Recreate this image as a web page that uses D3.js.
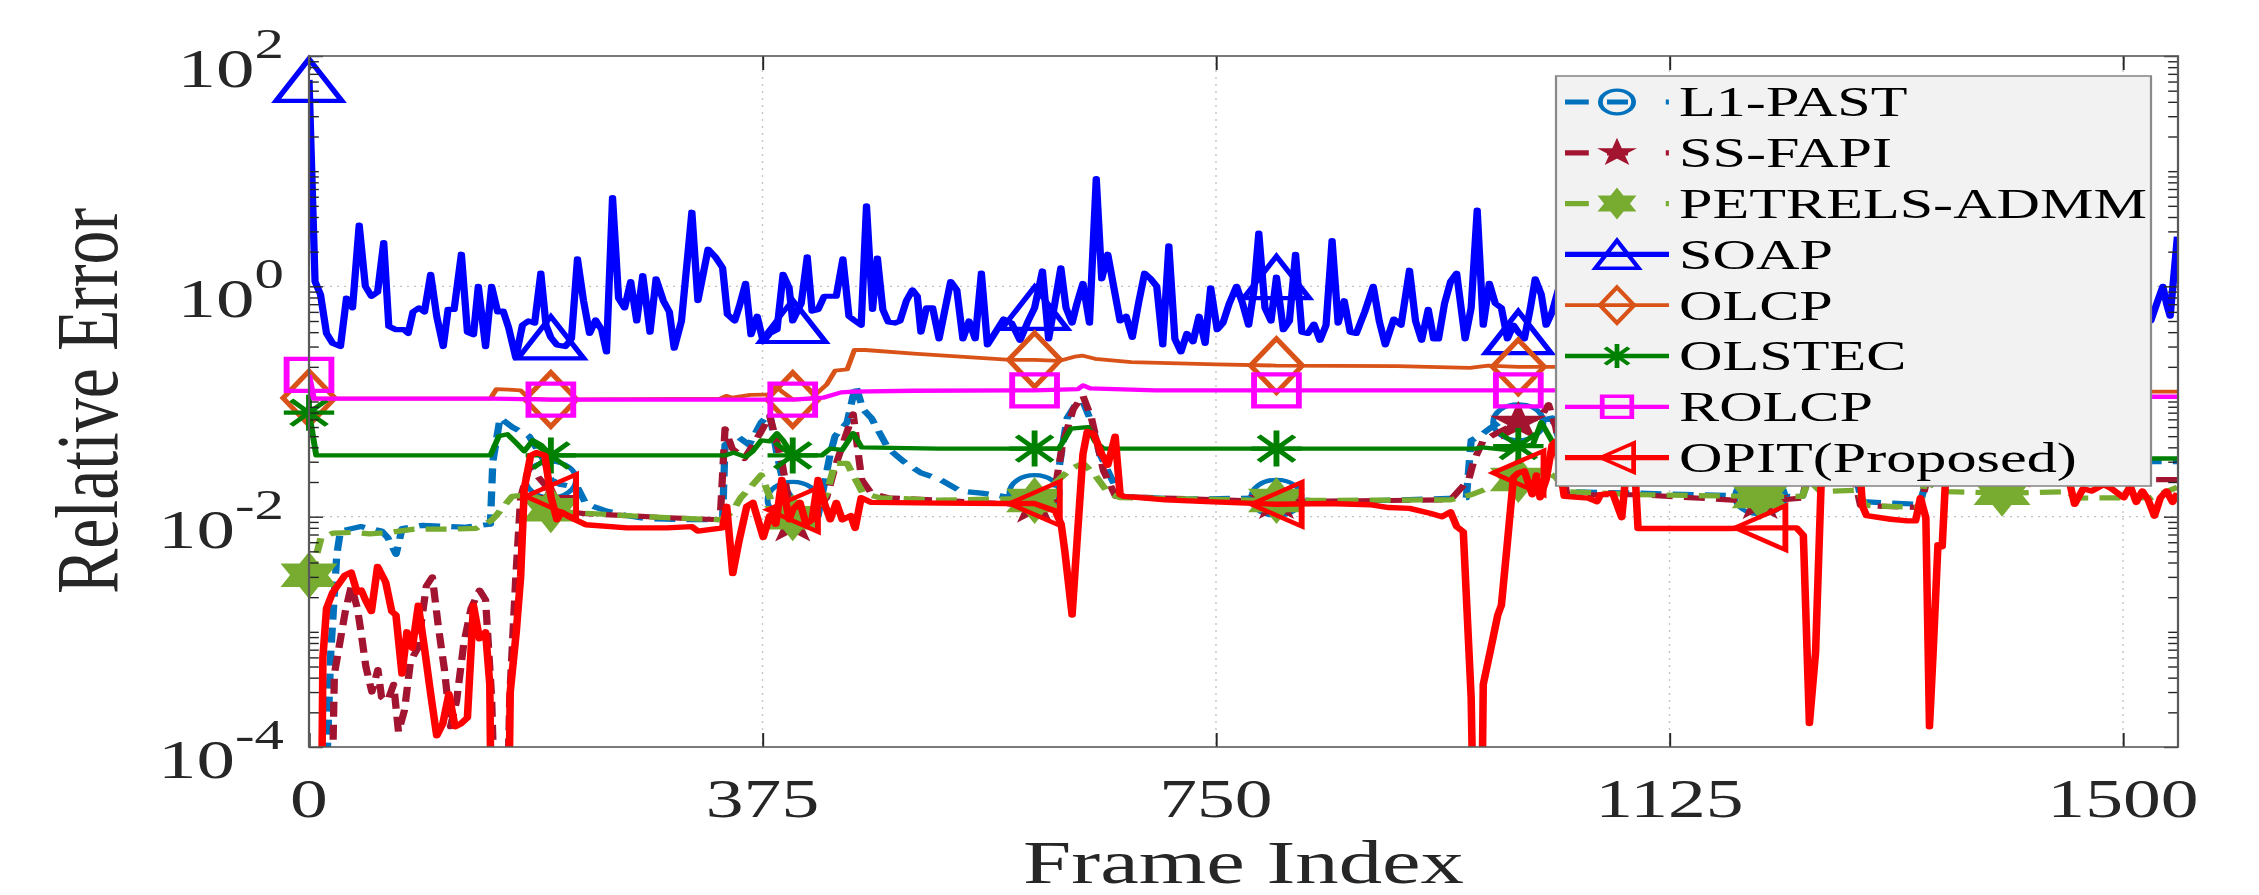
<!DOCTYPE html>
<html><head><meta charset="utf-8">
<script src="https://cdn.jsdelivr.net/npm/d3@7"></script>
<style>html,body{margin:0;padding:0;background:#fff;} svg{display:block}</style>
</head><body>
<svg id="chart" width="2259" height="895"></svg>
<script>
// ---------------- DATA ----------------
const xTicks = [0, 375, 750, 1125, 1500];
const yTickExponents = [-4, -2, 0, 2];
const seriesNames = ["L1-PAST", "SS-FAPI", "PETRELS-ADMM", "SOAP", "OLCP", "OLSTEC", "ROLCP", "OPIT(Proposed)"];
const markerFrames = [0, 200, 400, 600, 800, 1000, 1200, 1400];

// [frame, relative error]
const L1PAST = [[0,1e-5],[12,1e-5],[18,6.6e-4],[23,0.0047],[26,0.0075],[43,0.0082],[60,0.0075],[65,0.0066],[72,0.0047],[77,0.0079],[94,0.0084],[128,0.0081],[150,0.0086],[152,0.03],[158,0.072],[168,0.06],[182,0.05],[195,0.03],[200,0.021],[208,0.019],[222,0.018],[229,0.0129],[246,0.0112],[263,0.0102],[279,0.0096],[317,0.0094],[342,0.0094],[344,0.042],[354,0.05],[364,0.042],[374,0.066],[381,0.078],[387,0.035],[393,0.018],[400,0.014],[408,0.0102],[421,0.0102],[431,0.035],[435,0.05],[445,0.066],[452,0.139],[458,0.086],[465,0.072],[479,0.039],[492,0.03],[506,0.024],[522,0.021],[539,0.0166],[556,0.016],[583,0.0146],[600,0.016],[617,0.016],[622,0.035],[627,0.072],[634,0.094],[640,0.1],[647,0.066],[654,0.035],[664,0.021],[671,0.015],[725,0.0142],[800,0.0146],[843,0.0134],[957,0.0146],[961,0.046],[968,0.05],[978,0.06],[988,0.069],[1000,0.066],[1012,0.066],[1028,0.072],[1033,0.05],[1038,0.0165],[1100,0.016],[1200,0.015],[1235,0.015],[1242,0.026],[1278,0.026],[1284,0.0135],[1332,0.0128],[1340,0.026],[1400,0.026],[1523,0.03],[1545,0.03]];

const SSFAPI = [[0,1e-5],[18,1e-5],[21,4.3e-4],[30,0.0015],[35,0.0025],[40,0.0016],[43,0.001],[47,5e-4],[52,3e-4],[57,4.7e-4],[60,2.7e-4],[65,2.5e-4],[70,3.5e-4],[74,1.35e-4],[79,2.1e-4],[84,5.6e-4],[90,7.2e-4],[97,0.0025],[102,0.003],[107,0.0011],[112,4.7e-4],[117,1.5e-4],[122,2.5e-4],[128,7.9e-4],[134,0.0016],[141,0.0023],[146,0.0019],[151,2.7e-4],[155,1e-5],[163,1e-5],[166,2.7e-4],[171,0.003],[175,0.0146],[182,0.027],[188,0.023],[195,0.019],[200,0.0135],[215,0.011],[229,0.0106],[263,0.0102],[296,0.0098],[340,0.0094],[344,0.058],[350,0.039],[360,0.032],[374,0.055],[381,0.075],[391,0.03],[400,0.0086],[408,0.0086],[428,0.0146],[435,0.027],[445,0.055],[450,0.078],[457,0.021],[465,0.016],[479,0.0146],[522,0.0139],[600,0.0125],[607,0.0139],[617,0.0175],[623,0.042],[632,0.086],[640,0.112],[647,0.072],[657,0.025],[667,0.015],[800,0.0135],[944,0.014],[959,0.021],[963,0.03],[971,0.046],[985,0.055],[1000,0.066],[1018,0.072],[1025,0.094],[1031,0.06],[1036,0.03],[1040,0.0155],[1100,0.0155],[1200,0.0135],[1235,0.0145],[1242,0.03],[1275,0.03],[1283,0.0125],[1332,0.012],[1340,0.025],[1400,0.025],[1455,0.025],[1523,0.021],[1545,0.021]];

const PETRELS = [[0,0.0031],[4,0.0038],[10,0.0066],[20,0.0072],[37,0.0073],[50,0.0071],[67,0.0073],[87,0.0078],[104,0.0078],[121,0.0078],[138,0.0079],[151,0.0093],[155,0.0103],[168,0.015],[182,0.0155],[195,0.014],[200,0.0115],[212,0.011],[229,0.0107],[263,0.0102],[296,0.0098],[340,0.0094],[350,0.011],[357,0.0146],[364,0.0175],[374,0.023],[387,0.0102],[400,0.0098],[418,0.0102],[428,0.0158],[435,0.029],[445,0.029],[452,0.021],[458,0.016],[472,0.0146],[522,0.0139],[595,0.0144],[600,0.0138],[620,0.021],[630,0.026],[640,0.029],[650,0.023],[661,0.016],[671,0.0146],[800,0.0138],[944,0.014],[961,0.0155],[974,0.0175],[988,0.018],[1000,0.021],[1022,0.025],[1031,0.022],[1040,0.0165],[1100,0.0155],[1200,0.015],[1235,0.015],[1240,0.021],[1250,0.0165],[1281,0.017],[1287,0.0125],[1332,0.012],[1336,0.02],[1355,0.0165],[1400,0.016],[1455,0.0165],[1460,0.0145],[1523,0.0146],[1545,0.018]];

const SOAP = [[0,62],[5,1.1],[9.5,0.85],[14.5,0.39],[19.6,0.32],[26,0.30],[31,0.79],[36,0.65],[41.5,3.4],[46.6,1.0],[51.6,0.82],[56.7,0.89],[61.8,2.4],[66,0.45],[72,0.42],[78.6,0.42],[82,0.39],[86,0.60],[91,0.65],[95.5,0.60],[100.6,1.27],[105.6,0.55],[111,0.30],[115,0.63],[120,0.63],[126,1.9],[131,0.40],[136,0.38],[140,1.0],[146,0.30],[151,1.0],[156,0.60],[160.6,0.61],[165,0.44],[171,0.24],[176.5,0.46],[181.6,0.50],[186.6,0.48],[191.7,1.3],[196,0.46],[200,0.36],[205,0.31],[212,0.30],[217,0.35],[222,1.73],[227,0.75],[232,0.39],[237,0.51],[242,0.42],[246,0.27],[251,5.9],[256,0.79],[261,0.65],[266,1.1],[271,0.50],[276,1.24],[282,0.40],[287,1.16],[293,0.75],[298,0.60],[302,0.29],[308,0.50],[316.6,4.4],[321.6,0.75],[330,2.1],[336,1.8],[342,1.45],[346,0.57],[352,0.50],[356,0.68],[361,1.06],[365.5,0.38],[370.6,0.55],[375.6,0.33],[381,0.39],[387,0.42],[392,1.27],[397,0.97],[400,0.50],[407,0.71],[412,1.8],[416,0.61],[421,0.63],[426,0.82],[431,0.82],[436,0.82],[441.5,1.73],[446.5,0.55],[451.6,0.50],[456.6,0.46],[461,5.0],[466,0.63],[470,1.76],[474.5,0.63],[479,0.49],[484.6,0.48],[488.7,0.50],[494,0.75],[499,0.93],[503,0.82],[506,0.40],[510.6,0.65],[515.7,0.65],[521,0.35],[525.5,0.60],[530.6,1.1],[535.7,0.93],[540.7,0.35],[545.8,0.50],[550.9,0.35],[556,1.3],[561,0.31],[567.7,0.40],[574.5,0.52],[581,0.48],[588,0.34],[594.7,0.50],[600,0.65],[606.5,1.36],[611.6,0.35],[616.7,0.71],[621.7,1.45],[626,0.65],[631,0.48],[635,0.71],[640,1.06],[645.4,0.48],[651,8.6],[655.5,1.16],[660.5,1.9],[665.6,0.97],[670.7,0.50],[675.7,0.55],[680.8,0.36],[685.9,0.71],[691,1.3],[696,1.16],[701,1.0],[706,0.31],[711,2.25],[716,0.35],[721,0.27],[726,0.39],[731,0.33],[736,0.55],[741,0.32],[745.6,0.97],[751,0.42],[755.7,0.48],[761,0.71],[767,1.0],[772,0.71],[777,0.46],[781.4,0.93],[785.4,2.9],[790.5,0.65],[795.5,0.50],[800,1.2],[805.7,0.42],[810.7,0.50],[815.8,1.9],[821,0.40],[826,0.39],[831,0.47],[836,0.34],[841,0.46],[846,2.5],[851,0.48],[856,0.75],[861,0.40],[866,0.39],[873,0.60],[880,1.0],[885,0.50],[890,0.31],[897,0.52],[903,0.46],[910,1.38],[915,0.50],[920,0.34],[925.5,0.63],[930,0.35],[934,0.35],[939,0.71],[944,1.1],[949,1.3],[956,0.35],[961,0.65],[966,4.6],[971,0.46],[976,1.06],[981,0.71],[986,0.65],[991,0.35],[996,0.46],[1000,0.40],[1005,0.35],[1010,0.65],[1014,1.16],[1019,0.85],[1023,0.46],[1028,0.60],[1033,0.93],[1523,0.5],[1528,0.71],[1533,1.0],[1536,0.71],[1539,0.55],[1543,1.58],[1545,2.7]];

const OLCP = [[0,0.107],[5,0.106],[150,0.106],[155,0.128],[165,0.127],[175,0.125],[182,0.106],[200,0.104],[340,0.106],[345,0.112],[350,0.108],[365,0.114],[380,0.115],[386,0.135],[392,0.12],[400,0.104],[415,0.106],[428,0.14],[435,0.185],[445,0.19],[451,0.28],[460,0.28],[500,0.26],[580,0.23],[600,0.23],[620,0.225],[633,0.245],[640,0.25],[650,0.235],[680,0.22],[750,0.21],[800,0.205],[900,0.203],[960,0.196],[975,0.205],[1000,0.2],[1031,0.2],[1523,0.122],[1545,0.122]];

const OLSTEC = [[0,0.08],[6,0.034],[150,0.034],[157,0.05],[164,0.052],[171,0.044],[178,0.037],[185,0.046],[192,0.042],[200,0.034],[344,0.034],[351,0.036],[361,0.033],[367,0.037],[374,0.046],[381,0.045],[387,0.053],[392,0.046],[400,0.034],[424,0.034],[431,0.039],[441,0.038],[450,0.053],[457,0.04],[520,0.039],[600,0.039],[620,0.039],[630,0.058],[644,0.06],[650,0.045],[657,0.039],[700,0.039],[800,0.039],[965,0.039],[970,0.04],[990,0.038],[1000,0.041],[1012,0.042],[1019,0.066],[1028,0.045],[1031,0.042],[1523,0.032],[1545,0.032]];

const ROLCP = [[0,0.17],[4,0.106],[150,0.106],[200,0.104],[400,0.104],[425,0.108],[440,0.12],[450,0.122],[500,0.124],[600,0.125],[636,0.128],[640,0.138],[646,0.13],[700,0.125],[800,0.125],[1000,0.125],[1031,0.125],[1523,0.11],[1545,0.11]];

const OPIT = [[0,1e-5],[10,1e-5],[11.5,6e-4],[14.5,0.0016],[19.6,0.0022],[24.6,0.0026],[29.7,0.0031],[34.8,0.0033],[39.8,0.0022],[43.2,0.0023],[46.6,0.0019],[51.6,0.0015],[56.7,0.0037],[63.4,0.0027],[68.5,0.0015],[71.9,0.0014],[76.9,4.3e-4],[81,0.001],[85.4,7.2e-4],[90.4,0.0017],[95.5,7.2e-4],[100.6,2.9e-4],[105.6,1.25e-4],[110.7,1.6e-4],[115.7,2.9e-4],[120.8,1.5e-4],[125.9,1.6e-4],[131,1.8e-4],[136,0.0017],[141,8.7e-4],[146,0.001],[149.5,3.5e-4],[151,1e-5],[164.7,1e-5],[166.4,3e-4],[171.4,0.001],[175,0.003],[178,0.0175],[183.3,0.034],[188.3,0.036],[195,0.034],[200,0.015],[205,0.0094],[208.6,0.011],[215,0.01],[229,0.0085],[263,0.008],[296,0.008],[316.6,0.0082],[321.6,0.0075],[342,0.008],[345.4,0.0123],[350.4,0.0032],[355.4,0.006],[362,0.0123],[367,0.0133],[375.6,0.0066],[381,0.0102],[386,0.0086],[391,0.021],[397,0.0094],[400,0.0115],[402.6,0.0123],[406,0.0133],[411,0.0086],[416,0.0094],[421,0.021],[426,0.0133],[431,0.0094],[436,0.0133],[441,0.0094],[448,0.0102],[451.6,0.0079],[456.6,0.0146],[465,0.0133],[522,0.0131],[575,0.013],[600,0.013],[617,0.0112],[622,0.0086],[625,0.005],[631,0.0014],[635,0.0059],[640,0.035],[643.6,0.055],[649,0.052],[655.5,0.035],[660.5,0.028],[666.6,0.05],[670.7,0.0155],[674,0.015],[708,0.014],[742,0.0135],[775,0.0131],[800,0.0128],[843,0.013],[877,0.0127],[893,0.012],[910,0.0118],[927,0.0107],[937,0.01],[944,0.011],[949,0.0082],[954.5,0.0074],[957.5,0.0016],[961,2.7e-4],[963.5,1e-5],[969.4,1e-5],[971,3.5e-4],[978,7.8e-4],[983,0.0014],[986,0.0017],[991,0.006],[996,0.022],[1000,0.024],[1005,0.025],[1011.5,0.0155],[1015,0.023],[1018,0.0146],[1023,0.021],[1028,0.042],[1031,0.045],[1038,0.015],[1058,0.0145],[1065,0.0135],[1068,0.0155],[1078,0.016],[1085.5,0.0098],[1090,0.03],[1096,0.03],[1099,0.0079],[1173,0.0079],[1200,0.008],[1230,0.008],[1235.7,0.0069],[1240.7,1.6e-4],[1245.8,6.6e-4],[1251,0.03],[1282,0.03],[1284.6,0.0123],[1288,0.0102],[1308,0.0095],[1322,0.0092],[1328.5,0.0092],[1332.5,0.0146],[1337,0.0098],[1340,1.5e-4],[1343,6.6e-4],[1347,0.0057],[1350.5,0.0055],[1354,0.03],[1400,0.03],[1452,0.03],[1460,0.0128],[1467,0.0175],[1474,0.0167],[1484,0.019],[1490.5,0.0175],[1500.6,0.0146],[1506,0.0185],[1511,0.0133],[1516,0.0167],[1521,0.0139],[1526,0.0101],[1531,0.0146],[1536,0.0167],[1541,0.0133],[1545,0.016]];

const seriesData = [L1PAST, SSFAPI, PETRELS, SOAP, OLCP, OLSTEC, ROLCP, OPIT];
const seriesColors = ["#0072BD", "#A2142F", "#77AC30", "#0000FF", "#D95319", "#008000", "#FF00FF", "#FF0000"];
const seriesMarkers = ["circle", "pentagram", "hexagram", "triangleUp", "diamond", "asterisk", "square", "triangleLeft"];
const seriesDashed = [true, true, true, false, false, false, false, false];
const seriesWidths = [5.2, 5.2, 5.2, 5.2, 3.8, 4.3, 4.3, 5.4];

// ---------------- LAYOUT ----------------
const S = 1.4; // horizontal stretch of the original figure
const plotL = 309 / S, plotR = 2178 / S, plotT = 56, plotB = 747;
const FONT = "'Liberation Serif','Times New Roman',serif";

const svg = d3.select("#chart");
const root = svg.append("g").attr("transform", `scale(${S},1)`);

const x = d3.scaleLinear().domain([0, 1545.5]).range([plotL, plotR]);
const y = d3.scaleLog().domain([1e-4, 1e2]).range([plotB, plotT]);

root.append("clipPath").attr("id", "clip").append("rect")
  .attr("x", plotL).attr("y", plotT).attr("width", plotR - plotL).attr("height", plotB - plotT);

// grid
const gridG = root.append("g");
xTicks.filter(t => t > 0 && t < 1545).forEach(t => {
  gridG.append("line").attr("x1", x(t)).attr("x2", x(t)).attr("y1", plotT).attr("y2", plotB)
    .attr("stroke", "#c4c4c4").attr("stroke-width", 1.4 / S).attr("stroke-dasharray", "2,5");
});
yTickExponents.map(e => Math.pow(10, e)).filter(v => v > 1e-4 && v < 1e2).forEach(v => {
  gridG.append("line").attr("x1", plotL).attr("x2", plotR).attr("y1", y(v)).attr("y2", y(v))
    .attr("stroke", "#c4c4c4").attr("stroke-width", 1.4).attr("stroke-dasharray", "1.5,3.5");
});

// ---------------- MARKERS ----------------
function markerPath(type, sc) {
  const p = d3.path();
  if (type === "triangleUp") {
    const w = 47 * sc / 2, h = 42 * sc / 2;
    p.moveTo(0, -h); p.lineTo(w, h); p.lineTo(-w, h); p.closePath();
  } else if (type === "triangleLeft") {
    const w = 36 * sc / 2, h = 44 * sc / 2;
    p.moveTo(-w, 0); p.lineTo(w, -h); p.lineTo(w, h); p.closePath();
  } else if (type === "square") {
    const a = 32 * sc / 2;
    p.rect(-a, -a, 2 * a, 2 * a);
  } else if (type === "diamond") {
    const w = 37 * sc / 2, h = 54 * sc / 2;
    p.moveTo(0, -h); p.lineTo(w, 0); p.lineTo(0, h); p.lineTo(-w, 0); p.closePath();
  } else if (type === "asterisk") {
    const r = 18 * sc;
    for (let k = 0; k < 4; k++) {
      const a = k * Math.PI / 4;
      p.moveTo(-r * Math.cos(a), -r * Math.sin(a)); p.lineTo(r * Math.cos(a), r * Math.sin(a));
    }
  } else if (type === "pentagram") {
    const R = 19 * sc, r = R * 0.382;
    for (let k = 0; k < 10; k++) {
      const a = -Math.PI / 2 + k * Math.PI / 5, rr = k % 2 ? r : R;
      if (k === 0) p.moveTo(rr * Math.cos(a), rr * Math.sin(a)); else p.lineTo(rr * Math.cos(a), rr * Math.sin(a));
    }
    p.closePath();
  } else if (type === "hexagram") {
    const R = 22 * sc, r = R * 0.577;
    for (let k = 0; k < 12; k++) {
      const a = -Math.PI / 2 + k * Math.PI / 6, rr = k % 2 ? r : R;
      if (k === 0) p.moveTo(rr * Math.cos(a), rr * Math.sin(a)); else p.lineTo(rr * Math.cos(a), rr * Math.sin(a));
    }
    p.closePath();
  }
  return p.toString();
}
function drawMarker(g, type, cx, cy, sc, color, sw) {
  if (type === "circle") {
    g.append("circle").attr("cx", cx).attr("cy", cy).attr("r", 18 * sc)
      .attr("fill", "none").attr("stroke", color).attr("stroke-width", sw);
    return;
  }
  const filled = (type === "pentagram" || type === "hexagram");
  g.append("path").attr("d", markerPath(type, sc)).attr("transform", `translate(${cx},${cy})`)
    .attr("fill", filled ? color : "none").attr("stroke", color)
    .attr("stroke-width", filled ? 1.5 : sw).attr("stroke-linejoin", "miter");
}

// ---------------- SERIES ----------------
const line = d3.line().x(d => x(d[0])).y(d => y(d[1]));
const dataG = root.append("g");
seriesData.forEach((data, i) => {
  const g = dataG.append("g");
  g.append("path").datum(data).attr("d", line).attr("clip-path", "url(#clip)")
    .attr("fill", "none").attr("stroke", seriesColors[i]).attr("stroke-width", seriesWidths[i])
    .attr("stroke-linejoin", "round")
    .attr("stroke-dasharray", seriesDashed[i] ? "15,8" : null);
  markerFrames.forEach(f => {
    let best = null, bd = Infinity;
    data.forEach(d => { const dd = Math.abs(d[0] - f); if (dd < bd) { bd = dd; best = d; } });
    if (best && bd <= 3 && best[1] >= 1e-4 && best[1] <= 1e2) {
      drawMarker(g, seriesMarkers[i], x(best[0]), y(best[1]), 1, seriesColors[i], 4.2);
    }
  });
});

// ---------------- AXES ----------------
const axisColor = "#262626";
function styleAxis(g) {
  g.select(".domain").remove();
  g.selectAll(".tick line").attr("stroke", axisColor).attr("stroke-width", 1.4);
  g.selectAll(".tick text").remove();
}
const minorVals = [];
for (let e = -4; e < 2; e++) for (let k = 1; k <= 9; k++) {
  const v = k * Math.pow(10, e);
  if (!(k === 1 && e % 2 === 0)) minorVals.push(v);
}
const majorVals = yTickExponents.map(e => Math.pow(10, e));

root.append("g").attr("transform", `translate(0,${plotB})`)
  .call(d3.axisBottom(x).tickValues(xTicks).tickSizeInner(-14).tickSizeOuter(0)).call(styleAxis);
root.append("g").attr("transform", `translate(0,${plotT})`)
  .call(d3.axisTop(x).tickValues(xTicks).tickSizeInner(-14).tickSizeOuter(0)).call(styleAxis);
root.append("g").attr("transform", `translate(${plotL},0)`)
  .call(d3.axisLeft(y).tickValues(majorVals).tickSizeInner(-10).tickSizeOuter(0)).call(styleAxis);
root.append("g").attr("transform", `translate(${plotL},0)`)
  .call(d3.axisLeft(y).tickValues(minorVals).tickSizeInner(-7).tickSizeOuter(0)).call(styleAxis);
root.append("g").attr("transform", `translate(${plotR},0)`)
  .call(d3.axisRight(y).tickValues(majorVals).tickSizeInner(-10).tickSizeOuter(0)).call(styleAxis);
root.append("g").attr("transform", `translate(${plotR},0)`)
  .call(d3.axisRight(y).tickValues(minorVals).tickSizeInner(-7).tickSizeOuter(0)).call(styleAxis);

root.append("rect").attr("x", plotL).attr("y", plotT).attr("width", plotR - plotL).attr("height", plotB - plotT)
  .attr("fill", "none").attr("stroke", "#5a5a5a").attr("stroke-width", 1.6);

// tick labels
xTicks.forEach(t => {
  root.append("text").attr("x", x(t)).attr("y", 817).attr("text-anchor", "middle")
    .attr("font-family", FONT).attr("font-size", 54).attr("fill", axisColor).text(String(t));
});
yTickExponents.forEach(e => {
  const t = root.append("text").attr("x", 284 / S).attr("y", y(Math.pow(10, e)) + 31)
    .attr("text-anchor", "end").attr("font-family", FONT).attr("fill", axisColor);
  t.append("tspan").attr("font-size", 55).text("10");
  t.append("tspan").attr("font-size", 42).attr("dy", -29).text(e < 0 ? "-" + Math.abs(e) : String(e));
});

// axis titles
root.append("text").attr("x", (309 + 2178) / 2 / S).attr("y", 883).attr("text-anchor", "middle")
  .attr("font-family", FONT).attr("font-size", 62).attr("fill", axisColor).text("Frame Index");
root.append("text").attr("transform", `translate(${117 / S},401) rotate(-90)`).attr("text-anchor", "middle")
  .attr("font-family", FONT).attr("font-size", 64).attr("fill", axisColor)
  .attr("textLength", 386).attr("lengthAdjust", "spacingAndGlyphs").text("Relative Error");

// ---------------- LEGEND ----------------
const lg = root.append("g");
lg.append("rect").attr("x", 1556 / S).attr("y", 76).attr("width", (2151 - 1556) / S).attr("height", 410)
  .attr("fill", "#F2F2F2").attr("stroke", "#8a8a8a").attr("stroke-width", 1.6);
seriesNames.forEach((name, i) => {
  const cy = 102 + i * 50.8;
  const x1 = 1565 / S, x2 = 1669 / S, mx = 1617 / S;
  lg.append("line").attr("x1", x1).attr("x2", x2).attr("y1", cy).attr("y2", cy)
    .attr("stroke", seriesColors[i]).attr("stroke-width", seriesWidths[i])
    .attr("stroke-dasharray", seriesDashed[i] ? "17,13,15,27,2.2,60" : null);
  drawMarker(lg, seriesMarkers[i], mx, cy, 0.66, seriesColors[i], 3.4);
  lg.append("text").attr("x", 1679 / S).attr("y", cy + 14.5).attr("font-family", FONT)
    .attr("font-size", 43).attr("fill", "#000").text(name);
});
</script>
</body></html>
